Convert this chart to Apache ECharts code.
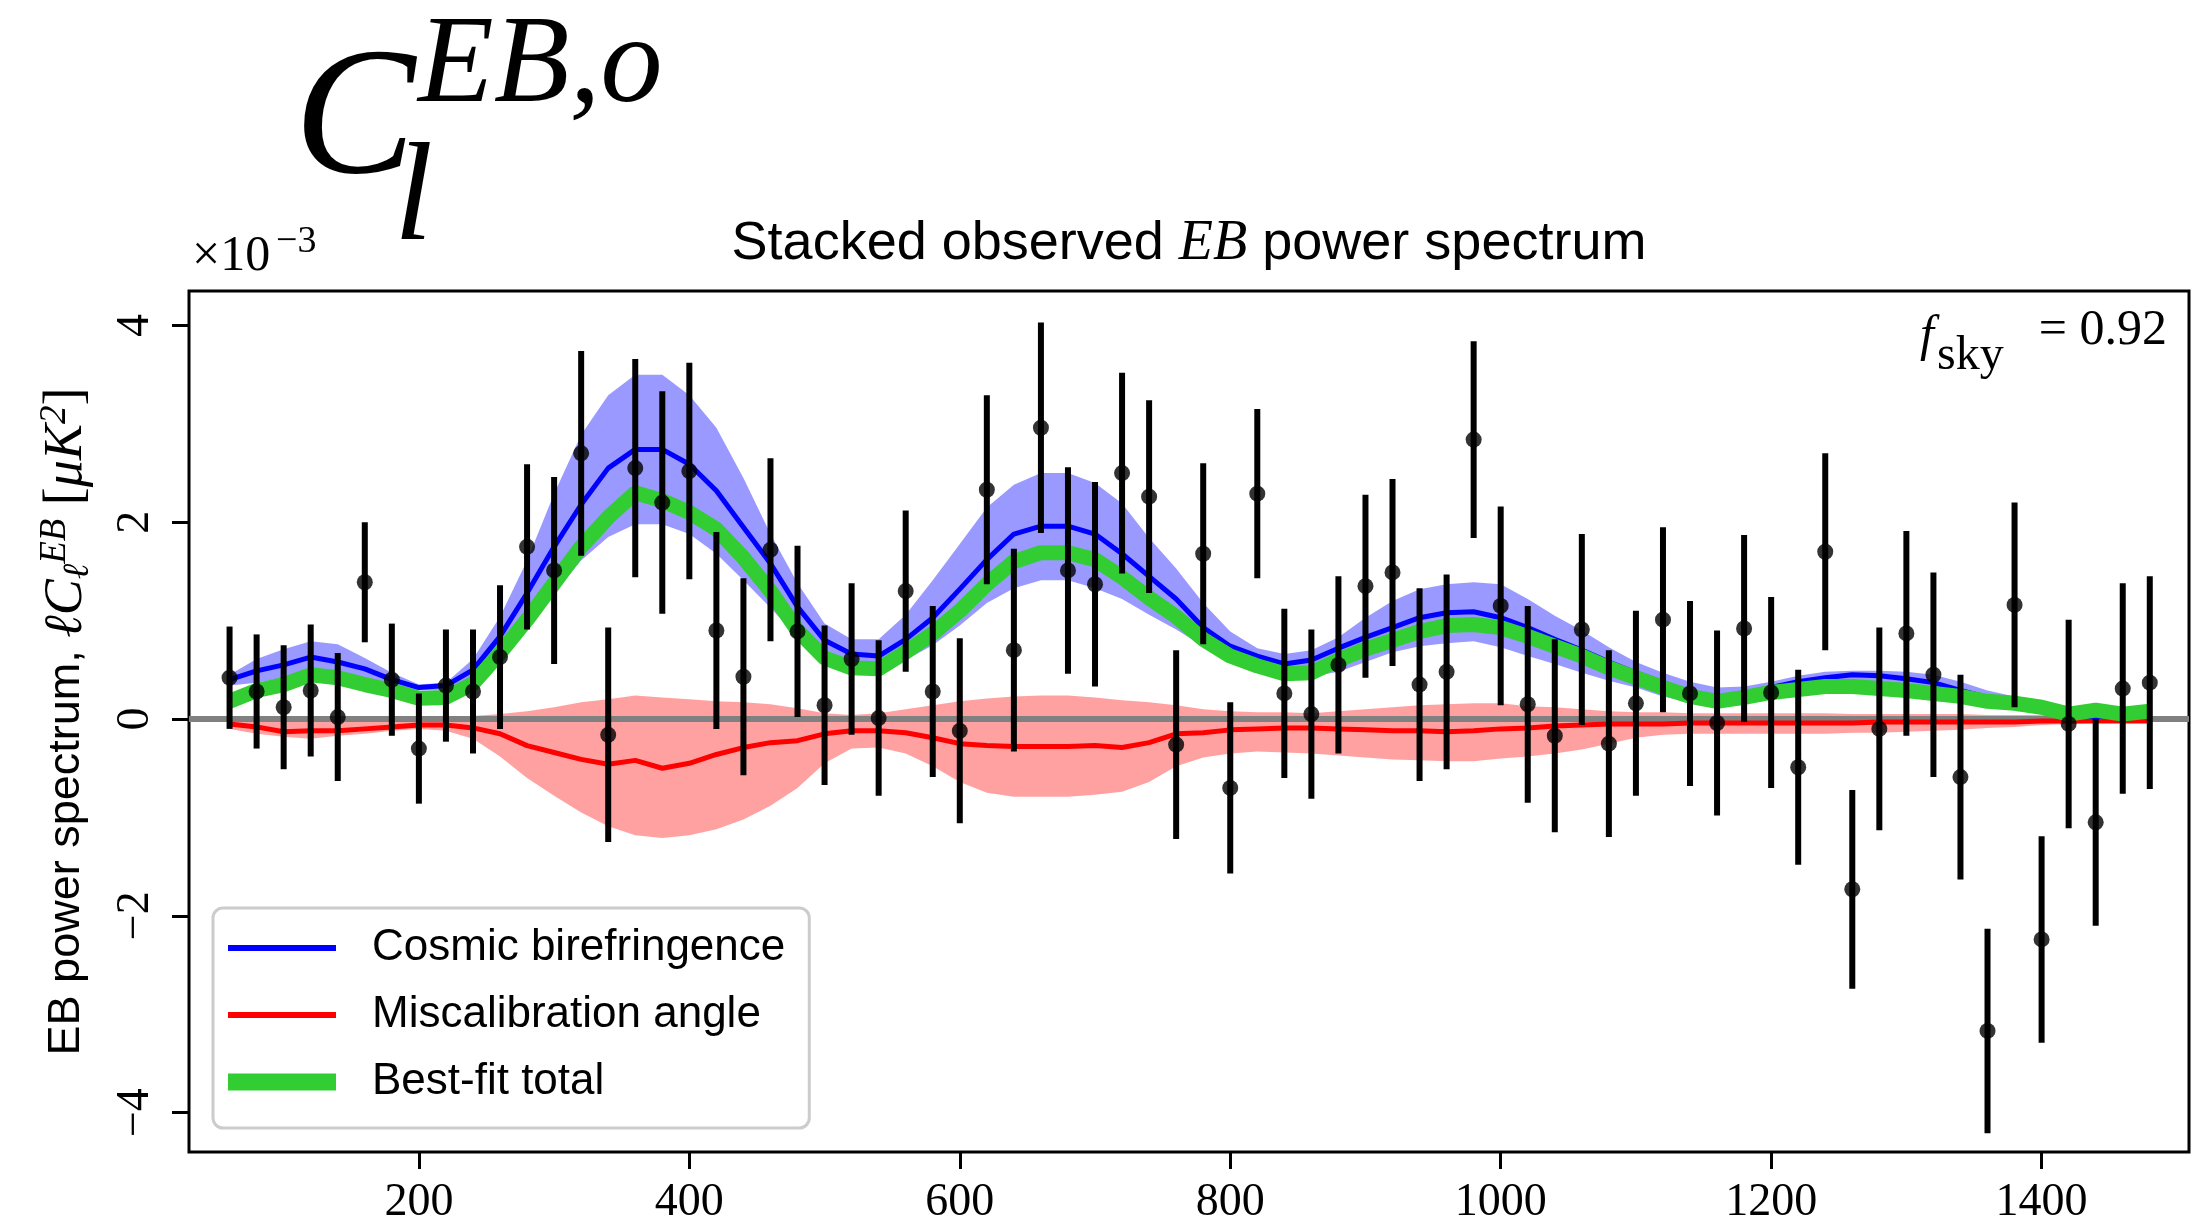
<!DOCTYPE html>
<html>
<head>
<meta charset="utf-8">
<script src="https://cdn.jsdelivr.net/npm/echarts@6/dist/echarts.min.js"></script>
<style>
html, body { margin: 0; padding: 0; background: #fff; }
#chart { width: 2197px; height: 1226px; }
</style>
</head>
<body>
<div id="chart"></div>
<script>
// Multipole bin centres (ell) — shared by data points and model curves
const ells = [60,80,100,120,140,160,180,200,220,240,260,280,300,320,340,360,380,400,420,440,
  460,480,500,520,540,560,580,600,620,640,660,680,700,720,740,760,780,800,820,840,
  860,880,900,920,940,960,980,1000,1020,1040,1060,1080,1100,1120,1140,1160,1180,1200,1220,1240,
  1260,1280,1300,1320,1340,1360,1380,1400,1420,1440,1460,1480];

// Observed stacked EB points (x10^-3 muK^2) and 1-sigma errors
const obs = [0.42,0.28,0.12,0.29,0.02,1.39,0.40,-0.30,0.34,0.28,0.63,1.75,1.51,2.70,-0.16,2.55,2.20,2.52,0.90,0.43,
  1.72,0.89,0.14,0.61,0.01,1.30,0.28,-0.12,2.33,0.70,2.96,1.51,1.37,2.50,2.26,-0.26,1.68,-0.70,2.29,0.26,
  0.05,0.55,1.35,1.49,0.35,0.48,2.84,1.15,0.15,-0.17,0.91,-0.25,0.16,1.01,0.26,-0.04,0.92,0.27,-0.49,1.70,
  -1.73,-0.10,0.87,0.45,-0.59,-3.17,1.16,-2.24,-0.05,-1.05,0.31,0.37];
const obsErr = [0.52,0.58,0.63,0.67,0.65,0.61,0.57,0.56,0.57,0.63,0.73,0.84,0.95,1.04,1.09,1.11,1.13,1.10,1.00,1.00,
  0.93,0.87,0.81,0.77,0.79,0.82,0.87,0.94,0.96,1.03,1.07,1.05,1.04,1.02,0.98,0.96,0.92,0.87,0.86,0.86,
  0.86,0.90,0.93,0.95,0.98,0.99,1.00,1.01,1.00,0.98,0.97,0.95,0.94,0.94,0.94,0.94,0.95,0.97,0.99,1.00,
  1.01,1.03,1.04,1.04,1.04,1.04,1.04,1.05,1.06,1.05,1.07,1.08];

// Cosmic birefringence model: median and band
const cbMid = [0.40,0.49,0.55,0.63,0.58,0.51,0.40,0.32,0.34,0.50,0.84,1.28,1.75,2.18,2.55,2.74,2.74,2.59,2.32,1.95,
  1.58,1.14,0.80,0.66,0.64,0.81,1.03,1.32,1.62,1.88,1.96,1.96,1.88,1.68,1.45,1.22,0.93,0.74,0.64,0.56,
  0.60,0.72,0.83,0.93,1.03,1.08,1.09,1.03,0.93,0.81,0.70,0.58,0.47,0.37,0.27,0.22,0.26,0.32,0.38,0.42,
  0.45,0.44,0.41,0.37,0.29,0.22,0.16,0.09,0.04,0.02,0.06,0.06];
const cbHi = [0.45,0.61,0.71,0.79,0.76,0.62,0.47,0.35,0.37,0.61,1.04,1.61,2.29,2.89,3.29,3.50,3.50,3.29,2.96,2.45,
  1.88,1.38,0.97,0.81,0.81,1.06,1.41,1.78,2.15,2.38,2.50,2.50,2.40,2.19,1.84,1.53,1.18,0.89,0.72,0.66,
  0.70,0.83,1.03,1.20,1.32,1.37,1.39,1.37,1.22,1.05,0.90,0.73,0.58,0.47,0.38,0.32,0.33,0.38,0.44,0.48,
  0.49,0.49,0.48,0.45,0.38,0.29,0.23,0.16,0.09,0.06,0.08,0.08];
const cbLo = [0.34,0.37,0.42,0.49,0.45,0.39,0.32,0.29,0.29,0.42,0.67,0.94,1.28,1.61,1.85,1.98,1.98,1.88,1.68,1.41,
  1.13,0.83,0.62,0.52,0.48,0.60,0.75,0.95,1.18,1.33,1.41,1.41,1.33,1.22,1.06,0.91,0.74,0.60,0.48,0.41,
  0.43,0.48,0.58,0.68,0.74,0.77,0.79,0.73,0.64,0.56,0.47,0.39,0.32,0.23,0.17,0.13,0.17,0.22,0.25,0.27,
  0.29,0.28,0.26,0.23,0.19,0.15,0.11,0.08,0.04,0.02,0.03,0.03];

// Miscalibration angle model: median and band
const miMid = [-0.05,-0.08,-0.13,-0.12,-0.12,-0.10,-0.08,-0.06,-0.06,-0.09,-0.15,-0.27,-0.34,-0.41,-0.46,-0.42,-0.50,-0.45,-0.36,-0.29,
  -0.24,-0.22,-0.15,-0.12,-0.12,-0.14,-0.19,-0.25,-0.27,-0.28,-0.28,-0.28,-0.27,-0.29,-0.24,-0.15,-0.14,-0.11,-0.10,-0.09,
  -0.09,-0.10,-0.11,-0.12,-0.12,-0.13,-0.12,-0.10,-0.09,-0.07,-0.06,-0.05,-0.05,-0.05,-0.04,-0.04,-0.04,-0.04,-0.04,-0.04,
  -0.04,-0.03,-0.03,-0.03,-0.03,-0.03,-0.03,-0.02,-0.02,-0.02,-0.02,-0.02];
const miHi = [0.02,0.02,0.02,0.02,0.02,0.02,0.02,0.02,0.02,0.03,0.05,0.08,0.12,0.17,0.20,0.24,0.22,0.20,0.18,0.17,
  0.15,0.11,0.06,0.04,0.06,0.10,0.14,0.18,0.21,0.23,0.24,0.24,0.22,0.19,0.17,0.14,0.10,0.08,0.07,0.07,
  0.06,0.08,0.10,0.12,0.14,0.15,0.16,0.16,0.13,0.12,0.10,0.08,0.07,0.07,0.06,0.06,0.06,0.06,0.06,0.06,
  0.05,0.05,0.05,0.05,0.05,0.04,0.04,0.04,0.04,0.03,0.03,0.03];
const miLo = [-0.10,-0.15,-0.18,-0.20,-0.17,-0.15,-0.12,-0.10,-0.12,-0.20,-0.38,-0.60,-0.78,-0.95,-1.09,-1.18,-1.21,-1.18,-1.12,-1.02,
  -0.88,-0.70,-0.45,-0.30,-0.29,-0.35,-0.48,-0.64,-0.75,-0.79,-0.79,-0.79,-0.77,-0.74,-0.64,-0.48,-0.39,-0.35,-0.33,-0.34,
  -0.35,-0.37,-0.39,-0.41,-0.42,-0.43,-0.43,-0.40,-0.38,-0.35,-0.31,-0.25,-0.19,-0.16,-0.15,-0.15,-0.15,-0.15,-0.15,-0.15,
  -0.14,-0.14,-0.13,-0.12,-0.11,-0.09,-0.08,-0.06,-0.05,-0.04,-0.03,-0.03];

// Best-fit total
const total = [0.18,0.29,0.35,0.45,0.42,0.35,0.29,0.21,0.22,0.36,0.67,1.01,1.38,1.75,2.05,2.30,2.22,2.10,1.93,1.64,
  1.30,0.90,0.62,0.52,0.51,0.68,0.87,1.10,1.37,1.60,1.69,1.69,1.62,1.44,1.23,1.04,0.81,0.64,0.54,0.46,
  0.47,0.60,0.71,0.80,0.89,0.95,0.96,0.93,0.84,0.74,0.64,0.52,0.42,0.32,0.23,0.18,0.22,0.27,0.30,0.33,
  0.33,0.31,0.29,0.26,0.23,0.18,0.16,0.12,0.05,0.09,0.05,0.08];

// Axis ticks
const xTicks = [200, 400, 600, 800, 1000, 1200, 1400];
const yTicks = [-4, -2, 0, 2, 4];

const SANS = "'Liberation Sans', Arial, sans-serif";
const SERIF = "'Liberation Serif', 'DejaVu Serif', serif";

function bandSeries(name, lo, hi, fill) {
  return {
    type: 'custom', name: name, z: 1, silent: true, clip: true,
    data: ells.map((l, i) => [l, lo[i], hi[i]]),
    encode: { x: 0, y: [1, 2] },
    renderItem: function (params, api) {
      if (params.dataIndexInside !== 0) return null;
      const n = params.dataInsideLength;
      const top = [], bot = [];
      for (let i = 0; i < n; i++) {
        top.push(api.coord([api.value(0, i), api.value(2, i)]));
        bot.push(api.coord([api.value(0, i), api.value(1, i)]));
      }
      return { type: 'polygon', shape: { points: top.concat(bot.reverse()) }, style: { fill: fill } };
    }
  };
}

const chart = echarts.init(document.getElementById('chart'), null, { renderer: 'canvas' });
const option = {
  animation: false,
  backgroundColor: '#ffffff',
  grid: {
    left: 189, right: 8, top: 291, bottom: 73,
    show: true, borderColor: '#000', borderWidth: 3, backgroundColor: 'transparent'
  },
  xAxis: {
    type: 'value', min: 30, max: 1509,
    axisLine: { show: false, onZero: false },
    splitLine: { show: false },
    axisTick: { show: true, inside: false, length: 17, lineStyle: { color: '#000', width: 3 }, customValues: xTicks },
    axisLabel: { customValues: xTicks, margin: 28, fontFamily: SERIF, fontSize: 46, color: '#000',
      formatter: v => String(v) }
  },
  yAxis: {
    type: 'value', min: -4.4, max: 4.35,
    axisLine: { show: false, onZero: false },
    splitLine: { show: false },
    axisTick: { show: true, inside: false, length: 17, lineStyle: { color: '#000', width: 3 }, customValues: yTicks },
    axisLabel: {
      customValues: yTicks, rotate: 90, margin: 30, fontFamily: SERIF, fontSize: 46, color: '#000',
      formatter: v => String(v).replace('-', '\u2212')
    },
    name: '{s|EB power spectrum, }{m|\u2113C}{sub|\u2113}{sup|EB}{r| [}{m|\u03bcK}{sup|2}{r|]}',
    nameLocation: 'middle', nameRotate: 90, nameGap: 92,
    nameTextStyle: {
      rich: {
        s: { fontFamily: SANS, fontSize: 45, color: '#000', lineHeight: 60 },
        m: { fontFamily: SERIF, fontStyle: 'italic', fontSize: 54, color: '#000', lineHeight: 60 },
        r: { fontFamily: SERIF, fontSize: 54, color: '#000', lineHeight: 60 },
        sup: { fontFamily: SERIF, fontStyle: 'italic', fontSize: 37, color: '#000', verticalAlign: 'top', lineHeight: 37 },
        sub: { fontFamily: SERIF, fontStyle: 'italic', fontSize: 37, color: '#000', verticalAlign: 'bottom', lineHeight: 37 }
      }
    }
  },
  legend: {
    left: 213, top: 908, orient: 'vertical',
    padding: [12, 24, 18, 15],
    itemWidth: 108, itemHeight: 17, itemGap: 11,
    backgroundColor: '#fff', borderColor: '#cccccc', borderWidth: 3, borderRadius: 10,
    itemStyle: { borderWidth: 0 },
    textStyle: { fontFamily: SANS, fontSize: 44, color: '#000', lineHeight: 56, padding: [0, 0, 0, 31] },
    data: [
      { name: 'Cosmic birefringence', icon: 'path://M0,0M108,17M0,5.5L108,5.5L108,11.5L0,11.5Z' },
      { name: 'Miscalibration angle', icon: 'path://M0,0M108,17M0,5.5L108,5.5L108,11.5L0,11.5Z' },
      { name: 'Best-fit total', icon: 'rect' }
    ]
  },
  graphic: [
    { type: 'text', x: 294, y: 124, z: 100, style: { text: 'C', font: 'italic 182px ' + SERIF, fill: '#000', textAlign: 'left', textVerticalAlign: 'middle' } },
    { type: 'text', x: 418, y: 68, z: 100, style: { text: 'EB,o', font: 'italic 124px ' + SERIF, fill: '#000', textAlign: 'left', textVerticalAlign: 'middle' } },
    { type: 'text', x: 394, y: 202, z: 100, style: { text: 'l', font: 'italic 140px ' + SERIF, fill: '#000', textAlign: 'left', textVerticalAlign: 'middle' } },
    { type: 'text', x: 1189, y: 244, z: 100, style: {
        text: '{s|Stacked observed }{e|EB}{s| power spectrum}', textAlign: 'center', textVerticalAlign: 'middle',
        rich: {
          s: { fontFamily: SANS, fontSize: 54, fill: '#000', color: '#000' },
          e: { fontFamily: SERIF, fontStyle: 'italic', fontSize: 56, fill: '#000', color: '#000' }
        } } },
    { type: 'text', x: 192, y: 257, z: 100, style: { text: '\u00d710', font: '50px ' + SERIF, fill: '#000', textAlign: 'left', textVerticalAlign: 'middle' } },
    { type: 'text', x: 276, y: 242, z: 100, style: { text: '\u22123', font: '38px ' + SERIF, fill: '#000', textAlign: 'left', textVerticalAlign: 'middle' } },
    { type: 'text', x: 1920, y: 337, z: 100, style: { text: 'f', font: 'italic 50px ' + SERIF, fill: '#000', textAlign: 'left', textVerticalAlign: 'middle' } },
    { type: 'text', x: 1937, y: 356, z: 100, style: { text: 'sky', font: '48px ' + SERIF, fill: '#000', textAlign: 'left', textVerticalAlign: 'middle' } },
    { type: 'text', x: 2167, y: 331, z: 100, style: { text: '= 0.92', font: '50px ' + SERIF, fill: '#000', textAlign: 'right', textVerticalAlign: 'middle' } }
  ],
  series: [
    bandSeries('Miscalibration band', miLo, miHi, 'rgba(255,0,0,0.37)'),
    bandSeries('Birefringence band', cbLo, cbHi, 'rgba(0,0,255,0.40)'),
    {
      type: 'line', name: 'Miscalibration angle', z: 10,
      data: ells.map((l, i) => [l, miMid[i]]),
      showSymbol: false, symbol: 'none', color: '#ff0000',
      lineStyle: { color: '#ff0000', width: 5 },
      markLine: {
        silent: true, symbol: 'none', label: { show: false },
        lineStyle: { color: '#808080', width: 6, type: 'solid' },
        data: [{ yAxis: 0 }]
      }
    },
    {
      type: 'line', name: 'Cosmic birefringence', z: 11,
      data: ells.map((l, i) => [l, cbMid[i]]),
      showSymbol: false, symbol: 'none', color: '#0000ff',
      lineStyle: { color: '#0000ff', width: 5 }
    },
    {
      type: 'line', name: 'Best-fit total', z: 12,
      data: ells.map((l, i) => [l, total[i]]),
      showSymbol: false, symbol: 'none', color: '#32cd32',
      lineStyle: { color: '#32cd32', width: 15, cap: 'butt' }
    },
    {
      type: 'custom', name: 'error bars', z: 13, silent: true,
      data: ells.map((l, i) => [l, obs[i] - obsErr[i], obs[i] + obsErr[i]]),
      encode: { x: 0, y: [1, 2] },
      renderItem: function (params, api) {
        const a = api.coord([api.value(0), api.value(1)]);
        const b = api.coord([api.value(0), api.value(2)]);
        return { type: 'line', shape: { x1: a[0], y1: a[1], x2: b[0], y2: b[1] }, style: { stroke: '#000', lineWidth: 6 } };
      }
    },
    {
      type: 'scatter', name: 'Observed', z: 14,
      data: ells.map((l, i) => [l, obs[i]]),
      symbol: 'circle', symbolSize: 16, itemStyle: { color: '#000' }
    }
  ]
};
chart.setOption(option);
</script>
</body>
</html>
